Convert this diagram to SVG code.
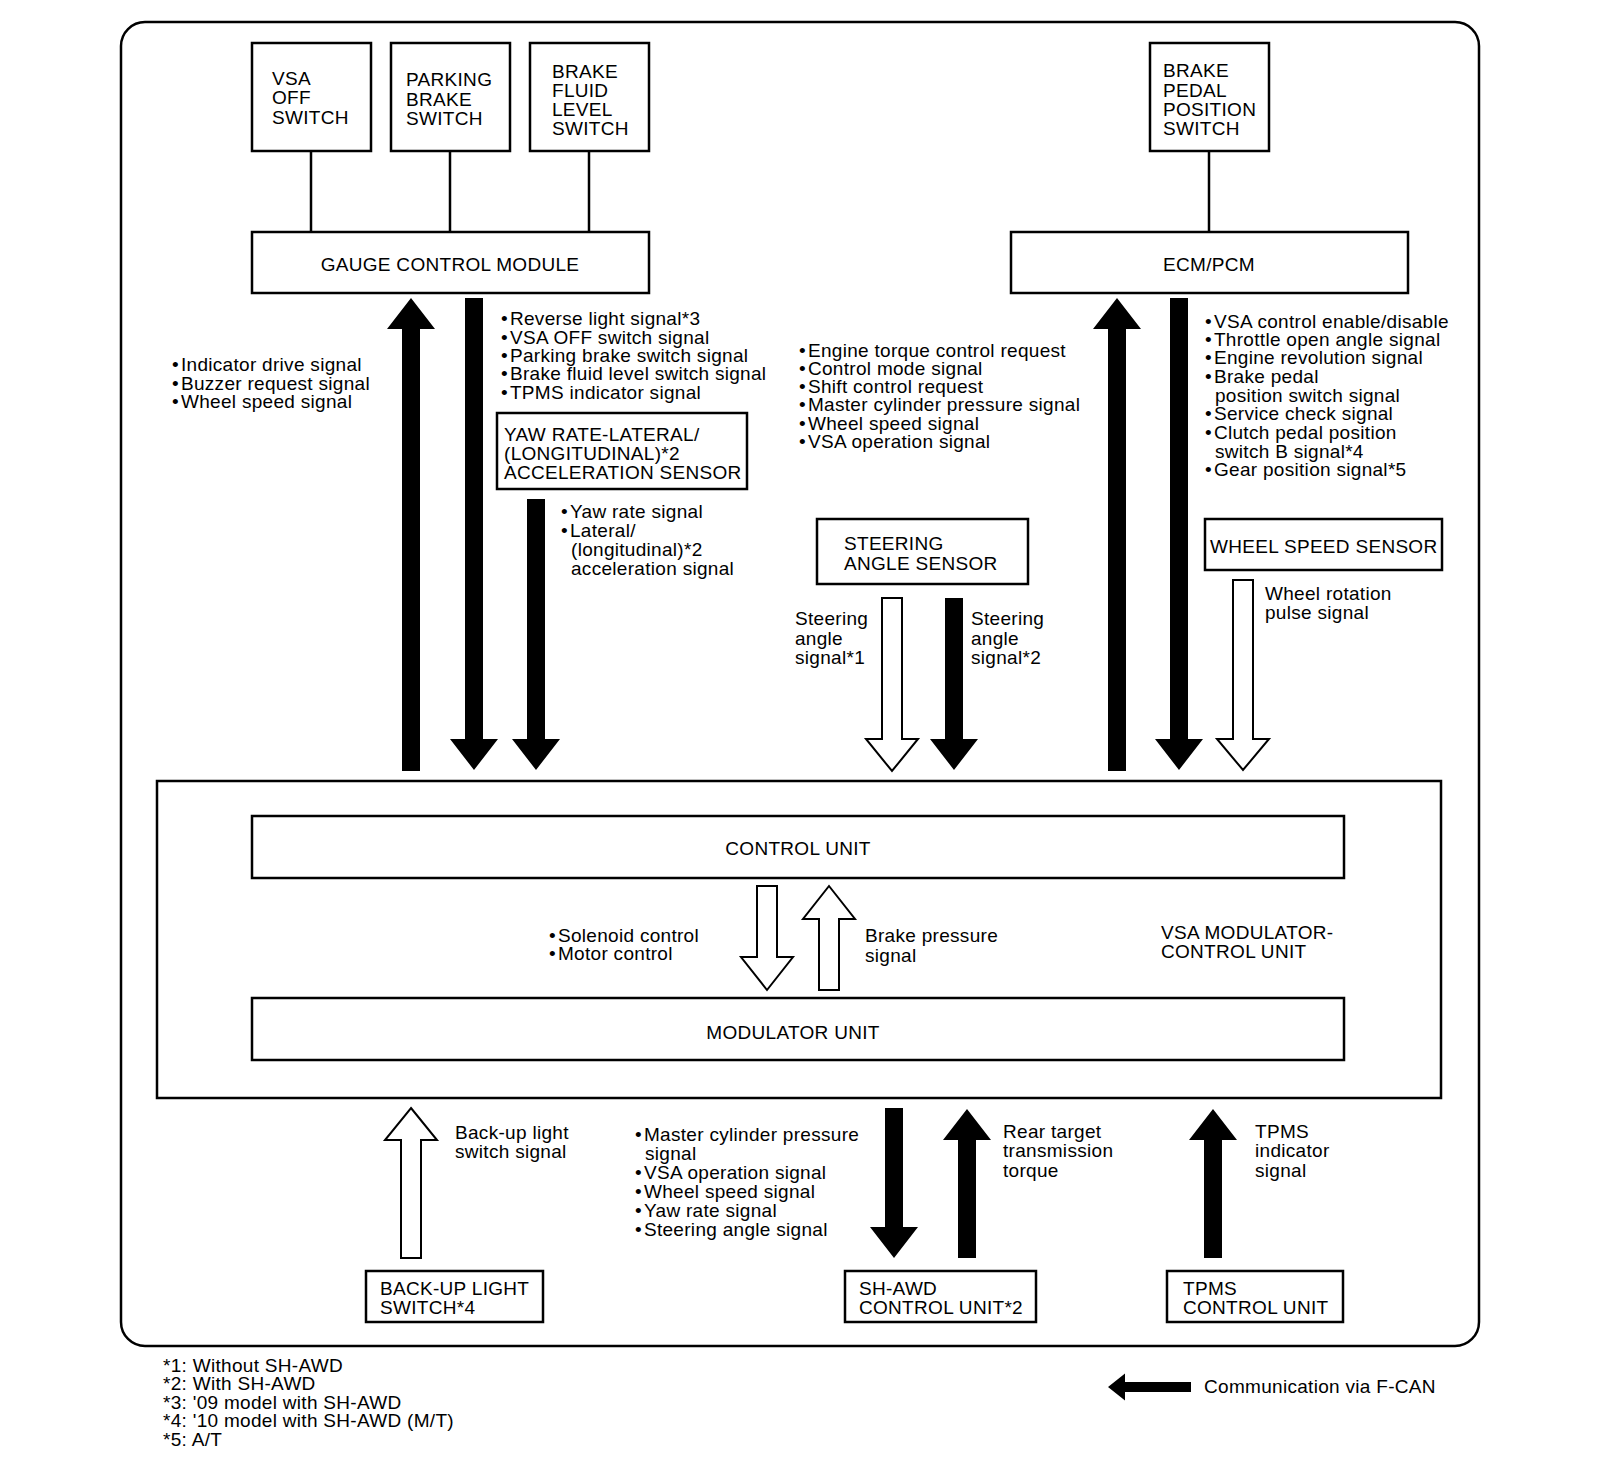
<svg xmlns="http://www.w3.org/2000/svg" width="1600" height="1474" viewBox="0 0 1600 1474">
<style>
text{font-family:"Liberation Sans",Arial,Helvetica,sans-serif;font-size:19px;letter-spacing:0.3px;fill:#000}
.c{text-anchor:middle}
.box{fill:#fff;stroke:#000;stroke-width:2.5}
.frame{fill:none;stroke:#000;stroke-width:2.5}
.ln{stroke:#000;stroke-width:2.5;fill:none}
.blk{fill:#000;stroke:none}
.hol{fill:#fff;stroke:#000;stroke-width:2;stroke-linejoin:miter}
</style>
<rect width="1600" height="1474" fill="#fff"/>
<rect class="frame" x="121" y="22" width="1358" height="1324" rx="24" ry="24"/>

<g id="vsa-off-switch"><rect class="box" x="252" y="43" width="119" height="108"/>
<text x="272" y="85">VSA</text><text x="272" y="104">OFF</text><text x="272" y="124">SWITCH</text></g>
<g id="parking-brake-switch"><rect class="box" x="391" y="43" width="119" height="108"/>
<text x="406" y="86">PARKING</text><text x="406" y="106">BRAKE</text><text x="406" y="125">SWITCH</text></g>
<g id="brake-fluid-level-switch"><rect class="box" x="530" y="43" width="119" height="108"/>
<text x="552" y="78">BRAKE</text><text x="552" y="97">FLUID</text><text x="552" y="116">LEVEL</text><text x="552" y="135">SWITCH</text></g>
<g id="brake-pedal-position-switch"><rect class="box" x="1150" y="43" width="119" height="108"/>
<text x="1163" y="77">BRAKE</text><text x="1163" y="97">PEDAL</text><text x="1163" y="116">POSITION</text><text x="1163" y="135">SWITCH</text></g>
<g id="gauge-control-module"><rect class="box" x="252" y="232" width="397" height="61"/>
<text class="c" x="450" y="271">GAUGE CONTROL MODULE</text></g>
<g id="ecm-pcm"><rect class="box" x="1011" y="232" width="397" height="61"/>
<text class="c" x="1209" y="271">ECM/PCM</text></g>
<g id="yaw-rate-sensor"><rect class="box" x="497" y="413" width="250" height="76"/>
<text x="504" y="441">YAW RATE-LATERAL/</text><text x="504" y="460">(LONGITUDINAL)*2</text><text x="504" y="479">ACCELERATION SENSOR</text></g>
<g id="steering-angle-sensor"><rect class="box" x="817" y="519" width="211" height="65"/>
<text x="844" y="550">STEERING</text><text x="844" y="570">ANGLE SENSOR</text></g>
<g id="wheel-speed-sensor"><rect class="box" x="1205" y="519" width="237" height="51"/>
<text x="1210" y="553">WHEEL SPEED SENSOR</text></g>
<g id="vsa-modulator-control-unit"><rect class="box" x="157" y="781" width="1284" height="317"/>
<text x="1161" y="939">VSA MODULATOR-</text><text x="1161" y="958">CONTROL UNIT</text></g>
<g id="control-unit"><rect class="box" x="252" y="816" width="1092" height="62"/>
<text class="c" x="798" y="855">CONTROL UNIT</text></g>
<g id="modulator-unit"><rect class="box" x="252" y="998" width="1092" height="62"/>
<text class="c" x="793" y="1039">MODULATOR UNIT</text></g>
<g id="back-up-light-switch"><rect class="box" x="366" y="1271" width="177" height="51"/>
<text x="380" y="1295">BACK-UP LIGHT</text><text x="380" y="1314">SWITCH*4</text></g>
<g id="sh-awd-control-unit"><rect class="box" x="845" y="1271" width="191" height="51"/>
<text x="859" y="1295">SH-AWD</text><text x="859" y="1314">CONTROL UNIT*2</text></g>
<g id="tpms-control-unit"><rect class="box" x="1167" y="1271" width="176" height="51"/>
<text x="1183" y="1295">TPMS</text><text x="1183" y="1314">CONTROL UNIT</text></g>

<g id="connectors">
<line class="ln" x1="311" y1="151" x2="311" y2="232"/>
<line class="ln" x1="450" y1="151" x2="450" y2="232"/>
<line class="ln" x1="589" y1="151" x2="589" y2="232"/>
<line class="ln" x1="1209" y1="151" x2="1209" y2="232"/>
<path class="blk" d="M411,298 L435,329 H420 V771 H402 V329 H387 Z"/>
<path class="blk" d="M465,298 H483 V739 H498 L474,770 L450,739 H465 Z"/>
<path class="blk" d="M527,499 H545 V739 H560 L536,770 L512,739 H527 Z"/>
<path class="hol" d="M882,598 H902 V739 H918 L892,771 L866,739 H882 Z"/>
<path class="blk" d="M945,598 H963 V739 H978 L954,770 L930,739 H945 Z"/>
<path class="blk" d="M1117,298 L1141,329 H1126 V771 H1108 V329 H1093 Z"/>
<path class="blk" d="M1170,298 H1188 V739 H1203 L1179,770 L1155,739 H1170 Z"/>
<path class="hol" d="M1233,580 H1253 V739 H1269 L1243,770 L1217,739 H1233 Z"/>
<path class="hol" d="M757,886 H777 V957 H793 L767,990 L741,957 H757 Z"/>
<path class="hol" d="M829,886 L855,919 H839 V990 H819 V919 H803 Z"/>
<path class="hol" d="M411,1108 L437,1140 H421 V1258 H401 V1140 H385 Z"/>
<path class="blk" d="M885,1108 H903 V1227 H918 L894,1258 L870,1227 H885 Z"/>
<path class="blk" d="M967,1109 L991,1140 H976 V1258 H958 V1140 H943 Z"/>
<path class="blk" d="M1213,1109 L1237,1140 H1222 V1258 H1204 V1140 H1189 Z"/>
</g>

<g id="labels">
<text x="172" y="371">•<tspan dx="2">Indicator drive signal</tspan></text>
<text x="172" y="390">•<tspan dx="2">Buzzer request signal</tspan></text>
<text x="172" y="408">•<tspan dx="2">Wheel speed signal</tspan></text>
<text x="501" y="325">•<tspan dx="2">Reverse light signal*3</tspan></text>
<text x="501" y="344">•<tspan dx="2">VSA OFF switch signal</tspan></text>
<text x="501" y="362">•<tspan dx="2">Parking brake switch signal</tspan></text>
<text x="501" y="380">•<tspan dx="2">Brake fluid level switch signal</tspan></text>
<text x="501" y="399">•<tspan dx="2">TPMS indicator signal</tspan></text>
<text x="561" y="518">•<tspan dx="2">Yaw rate signal</tspan></text>
<text x="561" y="537">•<tspan dx="2">Lateral/</tspan></text>
<text x="571" y="556">(longitudinal)*2</text>
<text x="571" y="575">acceleration signal</text>
<text x="799" y="357">•<tspan dx="2">Engine torque control request</tspan></text>
<text x="799" y="375">•<tspan dx="2">Control mode signal</tspan></text>
<text x="799" y="393">•<tspan dx="2">Shift control request</tspan></text>
<text x="799" y="411">•<tspan dx="2">Master cylinder pressure signal</tspan></text>
<text x="799" y="430">•<tspan dx="2">Wheel speed signal</tspan></text>
<text x="799" y="448">•<tspan dx="2">VSA operation signal</tspan></text>
<text x="1205" y="328">•<tspan dx="2">VSA control enable/disable</tspan></text>
<text x="1205" y="346">•<tspan dx="2">Throttle open angle signal</tspan></text>
<text x="1205" y="364">•<tspan dx="2">Engine revolution signal</tspan></text>
<text x="1205" y="383">•<tspan dx="2">Brake pedal</tspan></text>
<text x="1215" y="402">position switch signal</text>
<text x="1205" y="420">•<tspan dx="2">Service check signal</tspan></text>
<text x="1205" y="439">•<tspan dx="2">Clutch pedal position</tspan></text>
<text x="1215" y="458">switch B signal*4</text>
<text x="1205" y="476">•<tspan dx="2">Gear position signal*5</tspan></text>
<text x="795" y="625">Steering</text><text x="795" y="645">angle</text><text x="795" y="664">signal*1</text>
<text x="971" y="625">Steering</text><text x="971" y="645">angle</text><text x="971" y="664">signal*2</text>
<text x="1265" y="600">Wheel rotation</text><text x="1265" y="619">pulse signal</text>
<text x="549" y="942">•<tspan dx="2">Solenoid control</tspan></text><text x="549" y="960">•<tspan dx="2">Motor control</tspan></text>
<text x="865" y="942">Brake pressure</text><text x="865" y="962">signal</text>
<text x="455" y="1139">Back-up light</text><text x="455" y="1158">switch signal</text>
<text x="635" y="1141">•<tspan dx="2">Master cylinder pressure</tspan></text>
<text x="645" y="1160">signal</text>
<text x="635" y="1179">•<tspan dx="2">VSA operation signal</tspan></text>
<text x="635" y="1198">•<tspan dx="2">Wheel speed signal</tspan></text>
<text x="635" y="1217">•<tspan dx="2">Yaw rate signal</tspan></text>
<text x="635" y="1236">•<tspan dx="2">Steering angle signal</tspan></text>
<text x="1003" y="1138">Rear target</text><text x="1003" y="1157">transmission</text><text x="1003" y="1177">torque</text>
<text x="1255" y="1138">TPMS</text><text x="1255" y="1157">indicator</text><text x="1255" y="1177">signal</text>
</g>

<g id="footnotes">
<text x="163" y="1372">*1: Without SH-AWD</text>
<text x="163" y="1390">*2: With SH-AWD</text>
<text x="163" y="1409">*3: '09 model with SH-AWD</text>
<text x="163" y="1427">*4: '10 model with SH-AWD (M/T)</text>
<text x="163" y="1446">*5: A/T</text>
</g>
<g id="legend">
<path class="blk" d="M1108,1387 L1125,1373.5 V1382 H1191 V1392 H1125 V1400.5 Z"/>
<text x="1204" y="1393">Communication via F-CAN</text>
</g>
</svg>
